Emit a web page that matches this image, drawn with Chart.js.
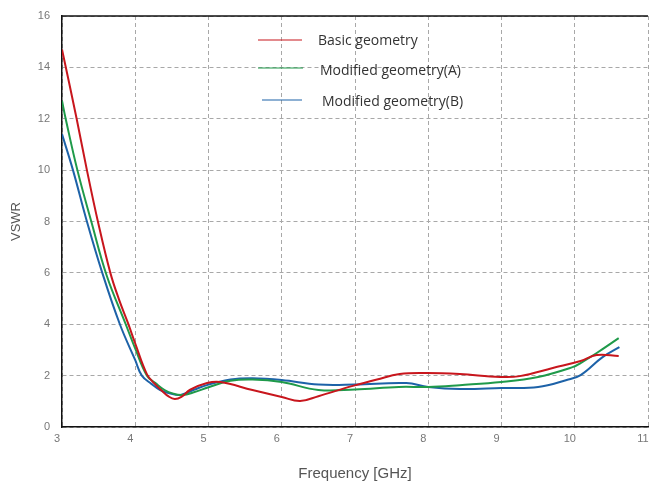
<!DOCTYPE html>
<html>
<head>
<meta charset="utf-8">
<script src="https://cdn.jsdelivr.net/npm/chart.js@4/dist/chart.umd.min.js"></script>
<style>
  html, body { margin: 0; padding: 0; background: #fff; }
  #wrap { width: 649px; height: 483px; }
</style>
</head>
<body>
<div id="wrap"><canvas id="vswrChart" width="649" height="483"></canvas></div>
<script>
// 곡선 데이터
const seriesNames = ['Basic geometry', 'Modified geometry(A)', 'Modified geometry(B)'];

const basicFreq = [3.0, 3.2, 3.34, 3.49, 3.66, 3.78, 3.9, 4.0, 4.16, 4.26, 4.36, 4.46, 4.54, 4.63, 4.75, 4.98, 5.16, 5.6, 6.0, 6.25, 6.5, 6.97, 7.3, 7.61, 7.98, 8.43, 8.98, 9.25, 9.7, 10.08, 10.3, 10.6];
const basicVswr = [14.7, 12.0, 10.0, 8.0, 6.0, 4.95, 4.05, 3.25, 2.05, 1.7, 1.42, 1.18, 1.09, 1.17, 1.45, 1.71, 1.75, 1.44, 1.17, 1.01, 1.2, 1.6, 1.85, 2.06, 2.1, 2.06, 1.95, 1.98, 2.3, 2.57, 2.8, 2.76];

const modAFreq = [3.0, 3.05, 3.21, 3.4, 3.61, 3.87, 4.0, 4.16, 4.28, 4.4, 4.52, 4.64, 4.8, 5.0, 5.3, 5.6, 6.0, 6.5, 7.0, 7.6, 8.0, 8.43, 9.0, 9.5, 9.97, 10.08, 10.3, 10.6];
const modAVswr = [12.7, 12.0, 10.0, 8.0, 5.9, 4.0, 3.05, 2.0, 1.7, 1.44, 1.3, 1.25, 1.35, 1.55, 1.8, 1.85, 1.75, 1.44, 1.46, 1.56, 1.56, 1.63, 1.75, 1.95, 2.33, 2.49, 2.88, 3.46];

const modBFreq = [3.0, 3.15, 3.34, 3.55, 3.79, 4.0, 4.09, 4.22, 4.34, 4.48, 4.62, 4.8, 5.0, 5.3, 5.6, 6.0, 6.5, 7.0, 7.7, 8.0, 8.43, 9.0, 9.5, 9.89, 10.08, 10.38, 10.61];
const modBVswr = [11.4, 10.0, 8.0, 6.0, 4.0, 2.6, 2.0, 1.68, 1.44, 1.3, 1.25, 1.45, 1.65, 1.85, 1.9, 1.83, 1.65, 1.65, 1.71, 1.56, 1.48, 1.52, 1.56, 1.83, 2.02, 2.72, 3.11];

const xTicks = [3, 4, 5, 6, 7, 8, 9, 10, 11];
const yTicks = [0, 2, 4, 6, 8, 10, 12, 14, 16];

const colors = ['#c8161d', '#1f9a4a', '#1d62a8'];

function toPoints(xs, ys) {
    return xs.map((x, i) => ({ x: x, y: ys[i] }));
}

// 범례 + 위쪽 테두리
const legendBox = {
    id: 'legendBox',
    afterDraw(chart) {
        const ctx = chart.ctx;
        const area = chart.chartArea;
        ctx.save();
        // top frame
        ctx.strokeStyle = '#111';
        ctx.lineWidth = 1.5;
        ctx.beginPath();
        ctx.moveTo(area.left, area.top);
        ctx.lineTo(area.right, area.top);
        ctx.stroke();

        const rows = [
            { x1: 258, x2: 302, ly: 40, tx: 318, ty: 41 },
            { x1: 258, x2: 303, ly: 68, tx: 320, ty: 71 },
            { x1: 262, x2: 302, ly: 100, tx: 322, ty: 102 }
        ];
        ctx.font = '14px "Open Sans", sans-serif';
        ctx.textBaseline = 'middle';
        ctx.textAlign = 'left';
        rows.forEach((r, i) => {
            ctx.strokeStyle = colors[i];
            ctx.lineWidth = 1.2;
            ctx.beginPath();
            ctx.moveTo(r.x1, r.ly);
            ctx.lineTo(r.x2, r.ly);
            ctx.stroke();
            ctx.fillStyle = '#333';
            ctx.fillText(seriesNames[i], r.tx, r.ty);
        });
        ctx.restore();
    }
};

const ctx = document.getElementById('vswrChart').getContext('2d');
const chart = new Chart(ctx, {
    type: 'line',
    data: {
        datasets: [
            { label: seriesNames[0], data: toPoints(basicFreq, basicVswr), borderColor: colors[0] },
            { label: seriesNames[1], data: toPoints(modAFreq, modAVswr), borderColor: colors[1] },
            { label: seriesNames[2], data: toPoints(modBFreq, modBVswr), borderColor: colors[2] }
        ]
    },
    options: {
        responsive: false,
        animation: false,
        elements: {
            line: { borderWidth: 2, tension: 0.4, fill: false },
            point: { radius: 0 }
        },
        layout: { padding: { top: 16, right: 1, left: 9, bottom: 0 } },
        plugins: {
            legend: { display: false },
            tooltip: { enabled: false }
        },
        scales: {
            x: {
                type: 'linear',
                min: 3,
                max: 11,
                afterBuildTicks: s => { s.ticks = xTicks.map(v => ({ value: v })); },
                afterFit: s => { s.height = 56; s.paddingLeft = 0; s.paddingRight = 0; },
                grid: { color: '#a8a8a8', drawTicks: false },
                border: { display: true, color: '#111', width: 1.5, dash: [4, 3] },
                ticks: { color: '#777', font: { size: 11 }, padding: 5, labelOffset: -5 },
                title: {
                    display: true,
                    text: 'Frequency [GHz]',
                    color: '#555',
                    font: { size: 15 },
                    padding: { top: 10, bottom: 0 }
                }
            },
            y: {
                min: 0,
                max: 16,
                afterBuildTicks: s => { s.ticks = yTicks.map(v => ({ value: v })); },
                afterFit: s => { s.width = 53; s.paddingTop = 0; s.paddingBottom = 0; },
                grid: { color: '#a8a8a8', drawTicks: false },
                border: { display: true, color: '#111', width: 1.5, dash: [4, 3] },
                ticks: { color: '#777', font: { size: 11 }, padding: 12 },
                title: {
                    display: true,
                    text: 'VSWR',
                    color: '#555',
                    font: { size: 13 },
                    padding: { top: 0, bottom: 8 }
                }
            }
        }
    },
    plugins: [legendBox]
});
</script>
</body>
</html>
